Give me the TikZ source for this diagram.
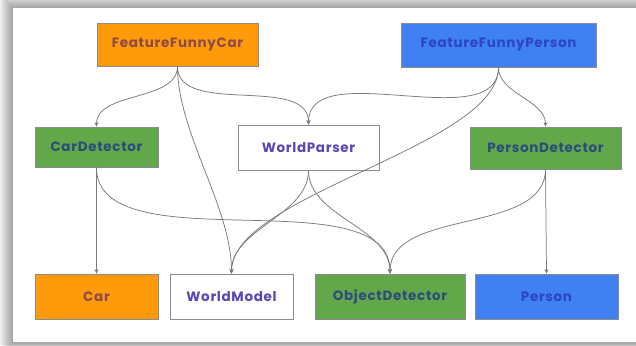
\documentclass[tikz,border=0pt]{standalone}
\usepackage{fontspec}
\setmainfont{Poppins}
\newfontfamily\boxfont{Poppins}[LetterSpace=5]
\usetikzlibrary{arrows.meta}
\definecolor{boxorange}{HTML}{FF9A0A}
\definecolor{boxgreen}{HTML}{62A84A}
\definecolor{boxblue}{HTML}{3F80F2}
\definecolor{edgegray}{HTML}{7A7A7A}
\definecolor{framegray}{HTML}{8C8C8C}
\definecolor{txtwhite}{HTML}{5A47B5}
\definecolor{txtorange}{HTML}{8F4A48}
\definecolor{txtgreen}{HTML}{2C4C7C}
\definecolor{txtblue}{HTML}{2E44C8}
\tikzset{
  box/.style={draw=framegray, line width=0.7pt, inner sep=0pt, align=center,
    font=\boxfont\fontsize{13.5}{15}\selectfont\bfseries},
  orangebox/.style={box, fill=boxorange, text=txtorange},
  greenbox/.style={box, fill=boxgreen, text=txtgreen},
  bluebox/.style={box, fill=boxblue, text=txtblue},
  whitebox/.style={box, fill=white, text=txtwhite},
  link/.style={draw=edgegray, line width=0.75pt,
    -{Stealth[length=4.5pt,width=4pt]}},
}
\begin{document}
\begin{tikzpicture}[x=1pt,y=-1pt]
  % card with soft drop shadow
  \useasboundingbox (0,0) rectangle (636,345);
  \fill[white!94!black] (0,0) rectangle (636,345);
  \foreach \i in {12,...,1}
    \fill[black, opacity=0.028] (13-\i,8-\i) rectangle (650,342+\i);
  \fill[white] (13,8) rectangle (650,342);

  % top row
  \node[orangebox, minimum width=161pt, minimum height=43pt] (ffc) at (177.5,44.5) {FeatureFunnyCar};
  \node[bluebox, minimum width=195pt, minimum height=44pt] (ffp) at (498.5,45) {FeatureFunnyPerson};

  % middle row
  \node[greenbox, minimum width=123pt, minimum height=40pt] (cd) at (96.5,147) {CarDetector};
  \node[whitebox, minimum width=141pt, minimum height=45pt] (wp) at (308.5,147.5) {WorldParser};
  \node[greenbox, minimum width=151pt, minimum height=42pt] (pd) at (545.5,148) {PersonDetector};

  % bottom row
  \node[orangebox, minimum width=123pt, minimum height=45pt] (car) at (96.5,296.5) {Car};
  \node[whitebox, minimum width=123pt, minimum height=45pt] (wm) at (231.5,296.5) {WorldModel};
  \node[greenbox, minimum width=150pt, minimum height=45pt] (od) at (390,296.5) {ObjectDetector};
  \node[bluebox, minimum width=143pt, minimum height=45pt] (per) at (546.5,296.5) {Person};

  % dependencies
  \draw[link] (ffc.south) to[out=-90,in=90,looseness=0.9] (cd.north);
  \draw[link] (ffc.south) to[out=-90,in=90,looseness=0.9] (wp.north);
  \draw[link] (ffc.south) to[out=-90,in=90,looseness=0.8] (wm.north);
  \draw[link] (ffp.south) to[out=-90,in=90,looseness=0.9] (wp.north);
  \draw[link] (ffp.south) to[out=-90,in=90,looseness=0.6] (wm.north);
  \draw[link] (ffp.south) to[out=-90,in=90,looseness=0.9] (pd.north);
  \draw[link] (cd.south) -- (car.north);
  \draw[link] (cd.south) to[out=-90,in=90,looseness=0.8] (od.north);
  \draw[link] (wp.south) to[out=-90,in=90,looseness=0.9] (wm.north);
  \draw[link] (wp.south) to[out=-90,in=90,looseness=0.9] (od.north);
  \draw[link] (pd.south) to[out=-90,in=90,looseness=0.9] (od.north);
  \draw[link] (pd.south) -- (per.north);
\end{tikzpicture}
\end{document}
